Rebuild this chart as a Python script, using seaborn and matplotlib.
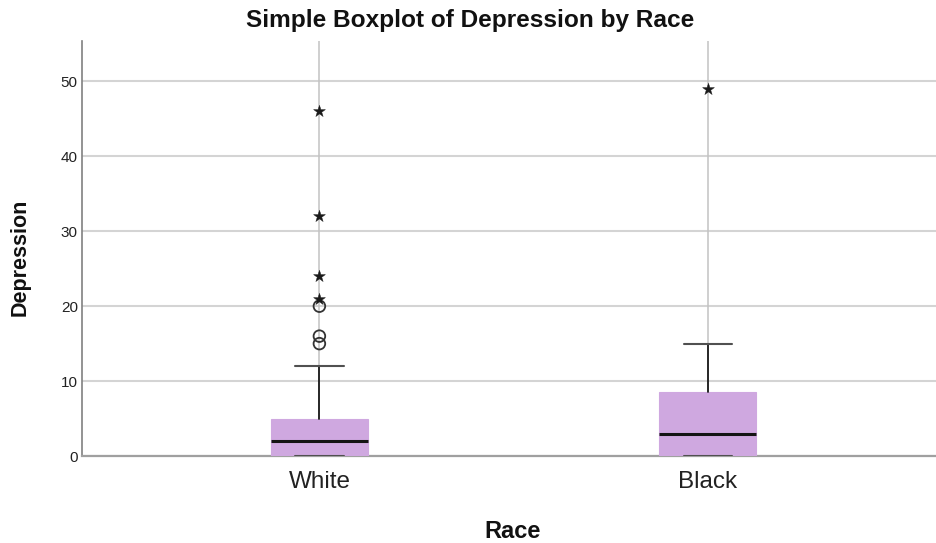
import matplotlib
matplotlib.use("Agg")
import matplotlib.pyplot as plt
import seaborn as sns
import pandas as pd

# Summary statistics of depression scores by race
races = ["White", "Black"]
q1 = [0, 0]
medians = [2, 3]
q3 = [5, 8.5]
whisker_low = [0, 0]
whisker_high = [12, 15]

# Points beyond the whiskers: outliers (circles) and extreme values (stars)
outlier_race = ["White", "White", "White"]
outlier_value = [15, 16, 20]
extreme_race = ["White", "White", "White", "White", "Black"]
extreme_value = [21, 24, 32, 46, 49]

yticks = [0, 10, 20, 30, 40, 50]

sns.set_theme(style="white")
plt.rcParams["font.family"] = ["Liberation Sans", "DejaVu Sans"]

fig = plt.figure(figsize=(9.36, 5.43), dpi=100)
ax = fig.add_axes([82 / 936, 1 - 456 / 543, 1 - 82 / 936, (456 - 41) / 543])

pos = list(range(len(races)))
stats = [
    dict(label=r, q1=a, med=m, q3=b, whislo=lo, whishi=hi, fliers=[])
    for r, a, m, b, lo, hi in zip(races, q1, medians, q3, whisker_low, whisker_high)
]

box_color = "#CFA8E0"
ax.bxp(
    stats, positions=pos, widths=0.25, patch_artist=True, showfliers=False,
    capwidths=0.125,
    boxprops=dict(facecolor=box_color, edgecolor=box_color, linewidth=0.8),
    medianprops=dict(color="#141414", linewidth=2.2),
    whiskerprops=dict(color="#1a1a1a", linewidth=1.3),
    capprops=dict(color="#505050", linewidth=1.5),
    zorder=3,
)

# Outliers and extremes
code = {r: i for i, r in enumerate(races)}
pts = pd.DataFrame({
    "x": [code[r] for r in outlier_race] + [code[r] for r in extreme_race],
    "y": outlier_value + extreme_value,
    "kind": ["outlier"] * len(outlier_value) + ["extreme"] * len(extreme_value),
})
sns.scatterplot(
    data=pts[pts.kind == "outlier"], x="x", y="y", ax=ax, marker="o",
    s=70, facecolor="none", edgecolor="#333333", linewidth=1.3, zorder=4, legend=False,
)
sns.scatterplot(
    data=pts[pts.kind == "extreme"], x="x", y="y", ax=ax, marker="*",
    s=80, color="#1a1a1a", edgecolor="#1a1a1a", linewidth=0.3, zorder=4, legend=False,
)

# Grid: horizontal lines at ticks, vertical lines through each category
for p in pos:
    ax.axvline(p, color="#C2C2C2", linewidth=1.1, zorder=1)
ax.set_yticks(yticks)
ax.yaxis.grid(True, color="#D4D4D4", linewidth=1.5, zorder=0)
ax.set_axisbelow(True)

ax.set_xlim(-0.611, 1.587)
ax.set_ylim(0, 55.4)
ax.set_xticks(pos)
ax.set_xticklabels(races, fontsize=17.5, color="#222222")
ax.tick_params(axis="x", length=0, pad=11)
ax.tick_params(axis="y", length=0, pad=3, labelsize=11, labelcolor="#222222")

for side in ["top", "right"]:
    ax.spines[side].set_visible(False)
ax.spines["left"].set_color("#808080")
ax.spines["left"].set_linewidth(1.2)
ax.spines["bottom"].set_color("#A0A0A0")
ax.spines["bottom"].set_linewidth(1.6)

ax.set_xlabel("Race", fontsize=17, fontweight="bold", color="#111111",
              va="center", ha="center")
ax.set_ylabel("Depression", fontsize=15.5, fontweight="bold", color="#111111",
              va="center", ha="center")
ax.xaxis.set_label_coords((513 - 82) / 854, -(531 - 456) / 415)
ax.yaxis.set_label_coords(-(82 - 20) / 854, (456 - 257) / 415)

fig.text(470 / 936, 1 - 20 / 543, "Simple Boxplot of Depression by Race",
         ha="center", va="center", fontsize=17.6, fontweight="bold", color="#111111")

fig.savefig("out.png", dpi=100)
